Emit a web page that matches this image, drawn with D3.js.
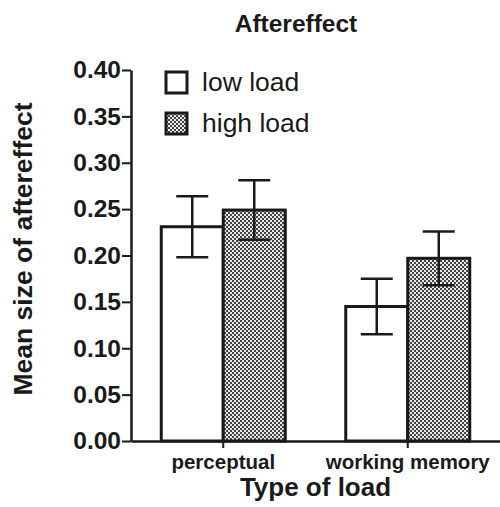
<!DOCTYPE html>
<html>
<head>
<meta charset="utf-8">
<script src="https://cdn.jsdelivr.net/npm/d3@7"></script>
<style>
  body { margin: 0; background: #fff; }
  svg text { font-family: "Liberation Sans", Arial, sans-serif; fill: #1a1a1a; }
  .tick-label { font-size: 24.5px; font-weight: bold; }
  .cat-label { font-size: 20.5px; font-weight: bold; }
</style>
</head>
<body>
<div id="chart"></div>
<script>
// data
const categories = ["perceptual", "working memory"];
const series = ["low load", "high load"];
const lowMeans = [0.231, 0.145];
const lowErr = [0.033, 0.030];
const highMeans = [0.249, 0.197];
const highErr = [0.032, 0.029];
const yTicks = [0, 0.05, 0.10, 0.15, 0.20, 0.25, 0.30, 0.35, 0.40];

const width = 500;
const height = 507;
const axisX = 131;
const axisY = 441;
const topY = 70;
const ink = "#1a1a1a";

const rows = [];
categories.forEach((c, i) => {
    rows.push({ cat: c, ser: series[0], mean: lowMeans[i], err: lowErr[i] });
    rows.push({ cat: c, ser: series[1], mean: highMeans[i], err: highErr[i] });
});

const svg = d3.select("#chart")
    .append("svg")
    .attr("width", width)
    .attr("height", height);

const defs = svg.append("defs");
const pattern = defs.append("pattern")
    .attr("id", "checker")
    .attr("patternUnits", "userSpaceOnUse")
    .attr("width", 4)
    .attr("height", 4);
pattern.append("rect").attr("width", 4).attr("height", 4).attr("fill", "#e8e8e8");
pattern.append("rect").attr("width", 2).attr("height", 2).attr("fill", "#444");
pattern.append("rect").attr("x", 2).attr("y", 2).attr("width", 2).attr("height", 2).attr("fill", "#444");

const fillFor = s => s === series[0] ? "#fff" : "url(#checker)";

const xScale = d3.scaleBand()
    .domain(categories)
    .range([axisX, width]);

const groupW = 124;
const xSub = d3.scaleBand()
    .domain(series)
    .range([(xScale.bandwidth() - groupW) / 2, (xScale.bandwidth() + groupW) / 2]);

const yScale = d3.scaleLinear()
    .domain([0, 0.40])
    .range([axisY, topY]);

// bars
svg.append("g")
    .selectAll("rect")
    .data(rows)
    .join("rect")
    .attr("x", d => xScale(d.cat) + xSub(d.ser))
    .attr("y", d => yScale(d.mean))
    .attr("width", xSub.bandwidth())
    .attr("height", d => yScale(0) - yScale(d.mean))
    .attr("fill", d => fillFor(d.ser))
    .attr("stroke", ink)
    .attr("stroke-width", 3);

// error bars
const capW = 32;
const errG = svg.append("g")
    .attr("stroke", ink)
    .attr("stroke-width", 2.5);

rows.forEach(d => {
    const cx = xScale(d.cat) + xSub(d.ser) + xSub.bandwidth() / 2;
    const y1 = yScale(d.mean + d.err);
    const y2 = yScale(d.mean - d.err);
    errG.append("line").attr("x1", cx).attr("x2", cx).attr("y1", y1).attr("y2", y2);
    errG.append("line").attr("x1", cx - capW / 2).attr("x2", cx + capW / 2).attr("y1", y1).attr("y2", y1);
    errG.append("line").attr("x1", cx - capW / 2).attr("x2", cx + capW / 2).attr("y1", y2).attr("y2", y2);
});

// y axis
const leftAxis = d3.axisLeft(yScale)
    .tickValues(yTicks)
    .tickFormat(d3.format(".2f"))
    .tickSize(9)
    .tickSizeOuter(0)
    .tickPadding(1);

const yAxisG = svg.append("g")
    .attr("transform", `translate(${axisX}, 0)`)
    .call(leftAxis);
yAxisG.select(".domain").attr("stroke", ink).attr("stroke-width", 2.5);
yAxisG.selectAll(".tick line").attr("stroke", ink).attr("stroke-width", 2);
yAxisG.selectAll(".tick text").attr("class", "tick-label").attr("font-family", null).attr("font-size", null);

// x axis
const bottomAxis = d3.axisBottom(xScale)
    .tickSize(7)
    .tickSizeOuter(0)
    .tickPadding(6);

const xAxisG = svg.append("g")
    .attr("transform", `translate(0, ${axisY})`)
    .call(bottomAxis);
xAxisG.select(".domain").attr("stroke", ink).attr("stroke-width", 2.5);
xAxisG.selectAll(".tick line").attr("stroke", ink).attr("stroke-width", 2);
xAxisG.selectAll(".tick text").attr("class", "cat-label").attr("font-family", null).attr("font-size", null);

// title
svg.append("text")
    .attr("x", 296)
    .attr("y", 32)
    .attr("text-anchor", "middle")
    .attr("font-size", 24.5)
    .attr("font-weight", "bold")
    .text("Aftereffect");

// axis titles
svg.append("text")
    .attr("x", (axisX + width) / 2)
    .attr("y", 496)
    .attr("text-anchor", "middle")
    .attr("font-size", 26)
    .attr("font-weight", "bold")
    .text("Type of load");

svg.append("text")
    .attr("transform", `translate(32, 249) rotate(-90)`)
    .attr("text-anchor", "middle")
    .attr("font-size", 26.5)
    .attr("font-weight", "bold")
    .text("Mean size of aftereffect");

// legend
const legend = svg.append("g")
    .selectAll("g")
    .data(series)
    .join("g")
    .attr("transform", (d, i) => `translate(166, ${72 + i * 41})`);

legend.append("rect")
    .attr("width", 21)
    .attr("height", 21)
    .attr("fill", d => fillFor(d))
    .attr("stroke", ink)
    .attr("stroke-width", 3);

legend.append("text")
    .attr("x", 36)
    .attr("y", 19)
    .attr("font-size", 26.5)
    .text(d => d);
</script>
</body>
</html>
